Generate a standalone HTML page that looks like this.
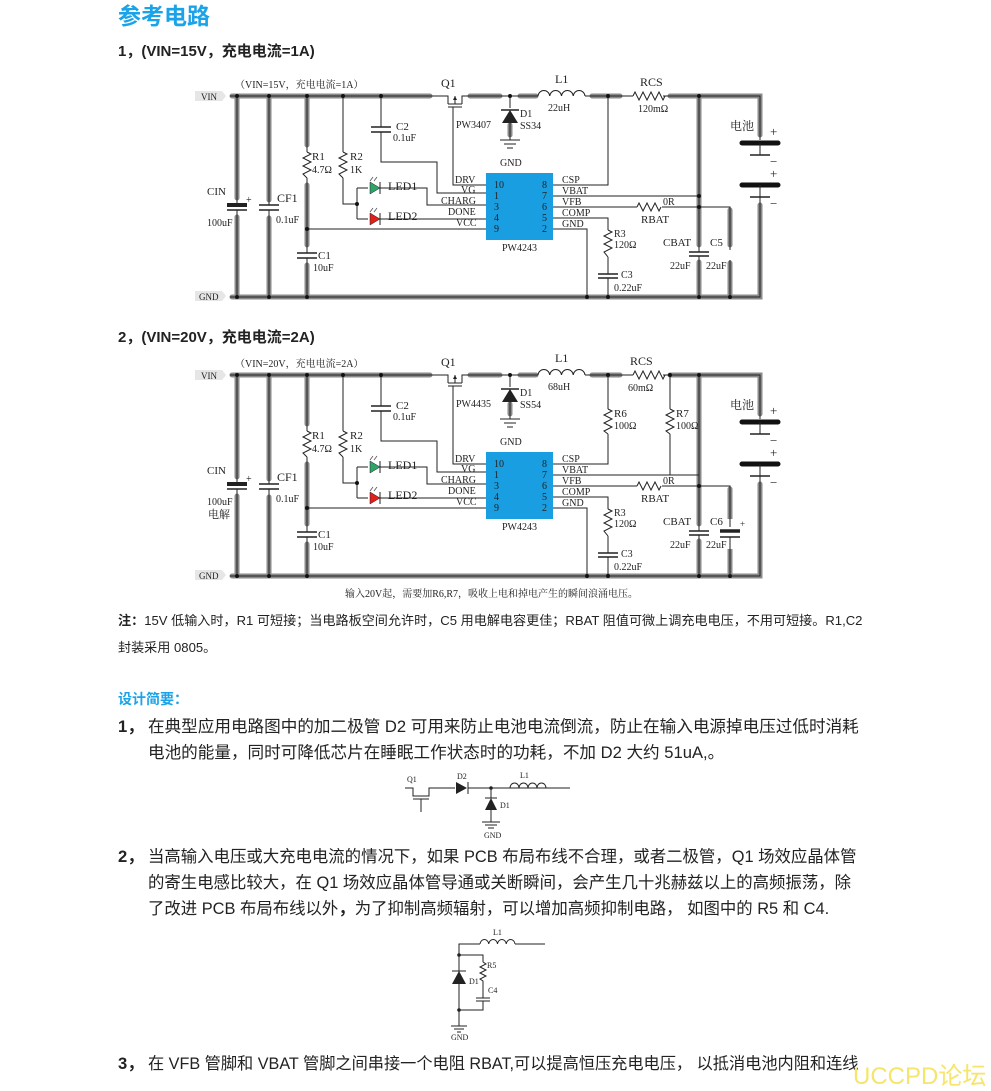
<!DOCTYPE html>
<html><head><meta charset="utf-8">
<style>
body{margin:0;background:#fff;width:991px;height:1088px;overflow:hidden;position:relative;font-family:"Liberation Sans","Noto Sans CJK SC",sans-serif;}
.t{position:absolute;white-space:nowrap;color:#222;}
svg text{font-family:"Liberation Serif","Noto Serif CJK SC",serif;fill:#222;}
</style></head><body>
<div class="t" style="left:118px;top:-3px;font-size:23px;color:#1aa3e8;font-weight:bold;">参考电路</div>
<div class="t" style="left:118px;top:40px;font-size:15px;font-weight:bold;">1，(VIN=15V，充电电流=1A)</div>
<div class="t" style="left:118px;top:326px;font-size:15px;font-weight:bold;">2，(VIN=20V，充电电流=2A)</div>

<svg width="991" height="1088" style="position:absolute;left:0;top:0" xmlns="http://www.w3.org/2000/svg">
<defs>
<g id="base" fill="none">
 <g stroke="#8a8a8a" stroke-width="5" stroke-linecap="round">
  <path d="M232 96H430M470 96H500M520 96H536M592 96H620M670 96H760V135M760 205V297H232"/>
  <path d="M237 96V198M237 217V297M269 96V200M269 218V297M307 96V145M307 185V245M307 265V297M699 96V245M699 262V297"/>
  <path d="M510 125V135M730 210V245M730 263V297"/>
 </g>
 <g stroke="#222" stroke-width="1">
  <path d="M230 96H440M465 96H538M585 96H633M663 96H760V140M760 200V297H230"/>
  <path d="M237 96V205M237 210V297M269 96V205M269 210V297M307 96V152M307 178V253M307 258V297M343 96V152M343 178V204H357M381 96V127M381 132V162H437V193H487"/>
  <path d="M357 188V219M357 188H368M380 188H427V205H487M357 219H368M380 219H487M307 229H487M453 112V185H487"/>
  <path d="M553 185H608V96M553 196H699M553 207H637M662 207H730V250M730 260V297M553 218H608V230M608 257V274M608 278V297M553 229H587V297M699 96V252M699 256V297M510 96V108M510 123V140"/>
 </g>
 <g stroke="#222" stroke-width="1.5">
  <path d="M227 210H247M259 205H279M259 210H279M297 253H317M297 258H317M371 127H391M371 132H391M598 274H618M598 278H618M689 252H709M689 256H709"/>
 </g>
 <path d="M227 205H247" stroke="#222" stroke-width="4"/>
 <g stroke="#222" stroke-width="1">
  <path d="M307 152l4 2-8 4 8 4-8 4 8 4-8 4 4 4"/>
  <path d="M343 152l4 2-8 4 8 4-8 4 8 4-8 4 4 4"/>
  <path d="M608 230l4 2-8 4 8 4-8 4 8 4-8 4 4 5"/>
  <path d="M633 96l2-4 4 8 4-8 4 8 4-8 4 8 4-8 4 8 2-4"/>
  <path d="M637 207l2-4 4 8 4-8 4 8 4-8 4 8 2-4"/>
  <path d="M538 96a5.9 6 0 0 1 11.75 0a5.9 6 0 0 1 11.75 0a5.9 6 0 0 1 11.75 0a5.9 6 0 0 1 11.75 0"/>
 </g>
 <g stroke="#222" stroke-width="1">
  <path d="M440 96H448V104M448 104H462M448 107H462M462 104V96H465M455 96V104M453 107V112"/>
 </g>
 <path d="M455 96l-2 4h4z" fill="#222"/>
 <path d="M502 123L510 110L518 123Z" fill="#222"/><path d="M501 110H519" stroke="#222" stroke-width="1.5"/>
 <path d="M500 140H520M504 144H516M507 148H513" stroke="#222"/>
 <path d="M370 182V194L380 188Z" fill="#2ea36a" stroke="#222" stroke-width=".5"/><path d="M380 182V194" stroke="#222"/>
 <path d="M370 213V225L380 219Z" fill="#e0201b" stroke="#222" stroke-width=".5"/><path d="M380 213V225" stroke="#222"/>
 <path d="M370 181l3-4M374 181l3-4M370 212l3-4M374 212l3-4" stroke="#555" stroke-width=".8"/>
 <rect x="486" y="173" width="67" height="67" fill="#1a9ee2"/>
 <path d="M742 143H778M742 185H778" stroke="#111" stroke-width="5" stroke-linecap="round"/>
 <path d="M750 155H770M750 197H770" stroke="#222" stroke-width="1.5"/>
 <path d="M760 143V155M760 185V197M760 197V210" stroke="#222"/>
 <g fill="#111">
  <circle cx="237" cy="96" r="2"/><circle cx="269" cy="96" r="2"/><circle cx="307" cy="96" r="2"/><circle cx="343" cy="96" r="2"/><circle cx="381" cy="96" r="2"/>
  <circle cx="237" cy="297" r="2"/><circle cx="269" cy="297" r="2"/><circle cx="307" cy="297" r="2"/><circle cx="587" cy="297" r="2"/><circle cx="608" cy="297" r="2"/><circle cx="699" cy="297" r="2"/><circle cx="730" cy="297" r="2"/>
  <circle cx="307" cy="229" r="2"/><circle cx="357" cy="204" r="2"/><circle cx="510" cy="96" r="2"/><circle cx="608" cy="96" r="2"/><circle cx="699" cy="96" r="2"/><circle cx="699" cy="207" r="2"/>
 </g>
 <path d="M195 91H222L226 96L222 101H195Z" fill="#e6e6e6"/>
 <path d="M195 291H222L226 296L222 301H195Z" fill="#e6e6e6"/>
</g>
</defs>

<use href="#base"/>
<circle cx="699" cy="196" r="2" fill="#111"/>
<g font-size="10">
 <text x="201" y="100" font-size="9" fill="#555">VIN</text><text x="199" y="300" font-size="9">GND</text>
 <text x="235" y="88" font-size="10">（VIN=15V，充电电流=1A）</text>
 <text x="441" y="87" font-size="12">Q1</text><text x="456" y="128">PW3407</text>
 <text x="520" y="117">D1</text><text x="520" y="129">SS34</text><text x="500" y="166">GND</text>
 <text x="555" y="83" font-size="12">L1</text><text x="548" y="111">22uH</text>
 <text x="640" y="86" font-size="12">RCS</text><text x="638" y="112">120mΩ</text>
 <text x="730" y="130" font-size="12">电池</text>
 <text x="770" y="136" font-size="13">+</text><text x="770" y="166" font-size="13">−</text><text x="770" y="178" font-size="13">+</text><text x="770" y="208" font-size="13">−</text>
 <text x="207" y="195" font-size="11">CIN</text><text x="246" y="203">+</text><text x="207" y="226">100uF</text>
 <text x="277" y="202" font-size="12">CF1</text><text x="276" y="223">0.1uF</text>
 <text x="312" y="160" font-size="11">R1</text><text x="312" y="173">4.7Ω</text>
 <text x="350" y="160" font-size="11">R2</text><text x="350" y="173">1K</text>
 <text x="318" y="259" font-size="11">C1</text><text x="313" y="271">10uF</text>
 <text x="396" y="130" font-size="11">C2</text><text x="393" y="141">0.1uF</text>
 <text x="388" y="190" font-size="12">LED1</text><text x="388" y="220" font-size="12">LED2</text>
 <text x="455" y="183">DRV</text><text x="461" y="193">VG</text><text x="441" y="204">CHARG</text><text x="448" y="215">DONE</text><text x="456" y="226">VCC</text>
 <g fill="#111"><text x="494" y="188">10</text><text x="494" y="199">1</text><text x="494" y="210">3</text><text x="494" y="221">4</text><text x="494" y="232">9</text>
 <text x="542" y="188">8</text><text x="542" y="199">7</text><text x="542" y="210">6</text><text x="542" y="221">5</text><text x="542" y="232">2</text></g>
 <text x="502" y="251">PW4243</text>
 <text x="562" y="183">CSP</text><text x="562" y="194">VBAT</text><text x="562" y="205">VFB</text><text x="562" y="216">COMP</text><text x="562" y="227">GND</text>
 <text x="663" y="205">0R</text><text x="641" y="223" font-size="11">RBAT</text>
 <text x="614" y="237">R3</text><text x="614" y="248">120Ω</text>
 <text x="621" y="278">C3</text><text x="614" y="291">0.22uF</text>
 <text x="663" y="246" font-size="11">CBAT</text><text x="710" y="246" font-size="11">C5</text>
 <text x="670" y="269">22uF</text><text x="706" y="269">22uF</text>
</g>

<g transform="translate(0,279)">
 <use href="#base"/>
 <rect x="600" y="110" width="20" height="70" fill="#fff"/>
 <rect x="720" y="240" width="20" height="30" fill="#fff"/>
 <g fill="none" stroke="#222">
  <path d="M608 96V130M608 155V185M670 96V130M670 155V196H553"/>
  <path d="M608 130l4 2-8 4 8 4-8 4 8 4-8 4 4 3M670 130l4 2-8 4 8 4-8 4 8 4-8 4 4 3"/>
  <path d="M730 207V248M730 258V297"/>
  <path d="M720 258H740" stroke-width="1.5"/><path d="M720 252H740" stroke-width="3.5"/>
 </g>
 <circle cx="670" cy="96" r="2" fill="#111"/>
 <g font-size="10">
 <text x="201" y="100" font-size="9" fill="#555">VIN</text><text x="199" y="300" font-size="9">GND</text>
 <text x="235" y="88" font-size="10">（VIN=20V，充电电流=2A）</text>
 <text x="441" y="87" font-size="12">Q1</text><text x="456" y="128">PW4435</text>
 <text x="520" y="117">D1</text><text x="520" y="129">SS54</text><text x="500" y="166">GND</text>
 <text x="555" y="83" font-size="12">L1</text><text x="548" y="111">68uH</text>
 <text x="630" y="86" font-size="12">RCS</text><text x="628" y="112">60mΩ</text>
 <text x="614" y="138" font-size="11">R6</text><text x="614" y="150">100Ω</text>
 <text x="676" y="138" font-size="11">R7</text><text x="676" y="150">100Ω</text>
 <text x="730" y="130" font-size="12">电池</text>
 <text x="770" y="136" font-size="13">+</text><text x="770" y="166" font-size="13">−</text><text x="770" y="178" font-size="13">+</text><text x="770" y="208" font-size="13">−</text>
 <text x="207" y="195" font-size="11">CIN</text><text x="246" y="203">+</text><text x="207" y="226">100uF</text><text x="208" y="239" font-size="11">电解</text>
 <text x="277" y="202" font-size="12">CF1</text><text x="276" y="223">0.1uF</text>
 <text x="312" y="160" font-size="11">R1</text><text x="312" y="173">4.7Ω</text>
 <text x="350" y="160" font-size="11">R2</text><text x="350" y="173">1K</text>
 <text x="318" y="259" font-size="11">C1</text><text x="313" y="271">10uF</text>
 <text x="396" y="130" font-size="11">C2</text><text x="393" y="141">0.1uF</text>
 <text x="388" y="190" font-size="12">LED1</text><text x="388" y="220" font-size="12">LED2</text>
 <text x="455" y="183">DRV</text><text x="461" y="193">VG</text><text x="441" y="204">CHARG</text><text x="448" y="215">DONE</text><text x="456" y="226">VCC</text>
 <g fill="#111"><text x="494" y="188">10</text><text x="494" y="199">1</text><text x="494" y="210">3</text><text x="494" y="221">4</text><text x="494" y="232">9</text>
 <text x="542" y="188">8</text><text x="542" y="199">7</text><text x="542" y="210">6</text><text x="542" y="221">5</text><text x="542" y="232">2</text></g>
 <text x="502" y="251">PW4243</text>
 <text x="562" y="183">CSP</text><text x="562" y="194">VBAT</text><text x="562" y="205">VFB</text><text x="562" y="216">COMP</text><text x="562" y="227">GND</text>
 <text x="663" y="205">0R</text><text x="641" y="223" font-size="11">RBAT</text>
 <text x="614" y="237">R3</text><text x="614" y="248">120Ω</text>
 <text x="621" y="278">C3</text><text x="614" y="291">0.22uF</text>
 <text x="663" y="246" font-size="11">CBAT</text><text x="710" y="246" font-size="11">C6</text><text x="740" y="248" font-size="9">+</text>
 <text x="670" y="269">22uF</text><text x="706" y="269">22uF</text>
 </g>
</g>
<text x="345" y="597" font-size="10" fill="#444">输入20V起，需要加R6,R7，吸收上电和掉电产生的瞬间浪涌电压。</text>

<g fill="none" stroke="#222" stroke-width="1">
 <path d="M405 788H413V796H429V788H436H455M413 799H429M421 799V812M468 788H570"/>
 <path d="M491 788V798M491 810V822M482 822H500M485 825H497M488 828H494"/>
 <path d="M510 788a4.5 5 0 0 1 9 0a4.5 5 0 0 1 9 0a4.5 5 0 0 1 9 0a4.5 5 0 0 1 9 0"/>
 <path d="M468 782V794M485 798H497"/>
</g>
<path d="M456 782V794L467 788Z M485 810L491 798L497 810Z" fill="#222"/><circle cx="491" cy="788" r="1.8" fill="#222"/>
<g font-size="8"><text x="407" y="782">Q1</text><text x="457" y="779">D2</text><text x="520" y="778">L1</text><text x="500" y="808">D1</text><text x="484" y="838">GND</text></g>

<g fill="none" stroke="#222" stroke-width="1">
 <path d="M459 1026V944H480M515 944H545M459 955H483V962M483 990V998M476 998H490M476 1001H490M483 1001V1010H459"/>
 <path d="M483 962l3 2-6 3 6 3-6 3 6 3-6 3 3 2V990"/>
 <path d="M480 944a4.4 5 0 0 1 8.75 0a4.4 5 0 0 1 8.75 0a4.4 5 0 0 1 8.75 0a4.4 5 0 0 1 8.75 0"/>
 <path d="M451 1026H467M454 1029H464M457 1032H461M452 971H466"/>
</g>
<path d="M452 984L459 971L466 984Z" fill="#222"/><circle cx="459" cy="955" r="1.8" fill="#222"/><circle cx="459" cy="1010" r="1.8" fill="#222"/>
<g font-size="8"><text x="493" y="935">L1</text><text x="487" y="968">R5</text><text x="469" y="984">D1</text><text x="488" y="993">C4</text><text x="451" y="1040">GND</text></g>
</svg>

<div class="t" style="left:118px;top:607px;font-size:13.1px;line-height:27px;width:780px;white-space:normal;"><b>注：</b>15V 低输入时，R1 可短接；当电路板空间允许时，C5 用电解电容更佳；RBAT 阻值可微上调充电电压，不用可短接。R1,C2<br>封装采用 0805。</div>
<div class="t" style="left:118px;top:689px;font-size:14px;color:#1aa3e8;font-weight:bold;">设计简要：</div>
<div class="t" style="left:118px;top:714px;font-size:16.6px;line-height:26px;"><b>1，</b></div>
<div class="t" style="left:148px;top:714px;font-size:16.6px;line-height:26px;">在典型应用电路图中的加二极管 D2 可用来防止电池电流倒流，防止在输入电源掉电压过低时消耗<br>电池的能量，同时可降低芯片在睡眠工作状态时的功耗，不加 D2 大约 51uA,。</div>
<div class="t" style="left:118px;top:844px;font-size:16.6px;line-height:26px;"><b>2，</b></div>
<div class="t" style="left:148px;top:844px;font-size:16.4px;line-height:26px;">当高输入电压或大充电电流的情况下，如果 PCB 布局布线不合理，或者二极管，Q1 场效应晶体管<br>的寄生电感比较大，在 Q1 场效应晶体管导通或关断瞬间，会产生几十兆赫兹以上的高频振荡，除<br>了改进 PCB 布局布线以外<b>，</b>为了抑制高频辐射，可以增加高频抑制电路，  如图中的 R5 和 C4.</div>
<div class="t" style="left:118px;top:1051px;font-size:16.6px;line-height:26px;"><b>3，</b></div>
<div class="t" style="left:148px;top:1051px;font-size:16.2px;line-height:26px;">在 VFB 管脚和 VBAT 管脚之间串接一个电阻 RBAT,可以提高恒压充电电压，  以抵消电池内阻和连线</div>
<div class="t" style="left:853px;top:1056px;font-size:24px;color:#f5e56b;">UCCPD论坛</div>
</body></html>
